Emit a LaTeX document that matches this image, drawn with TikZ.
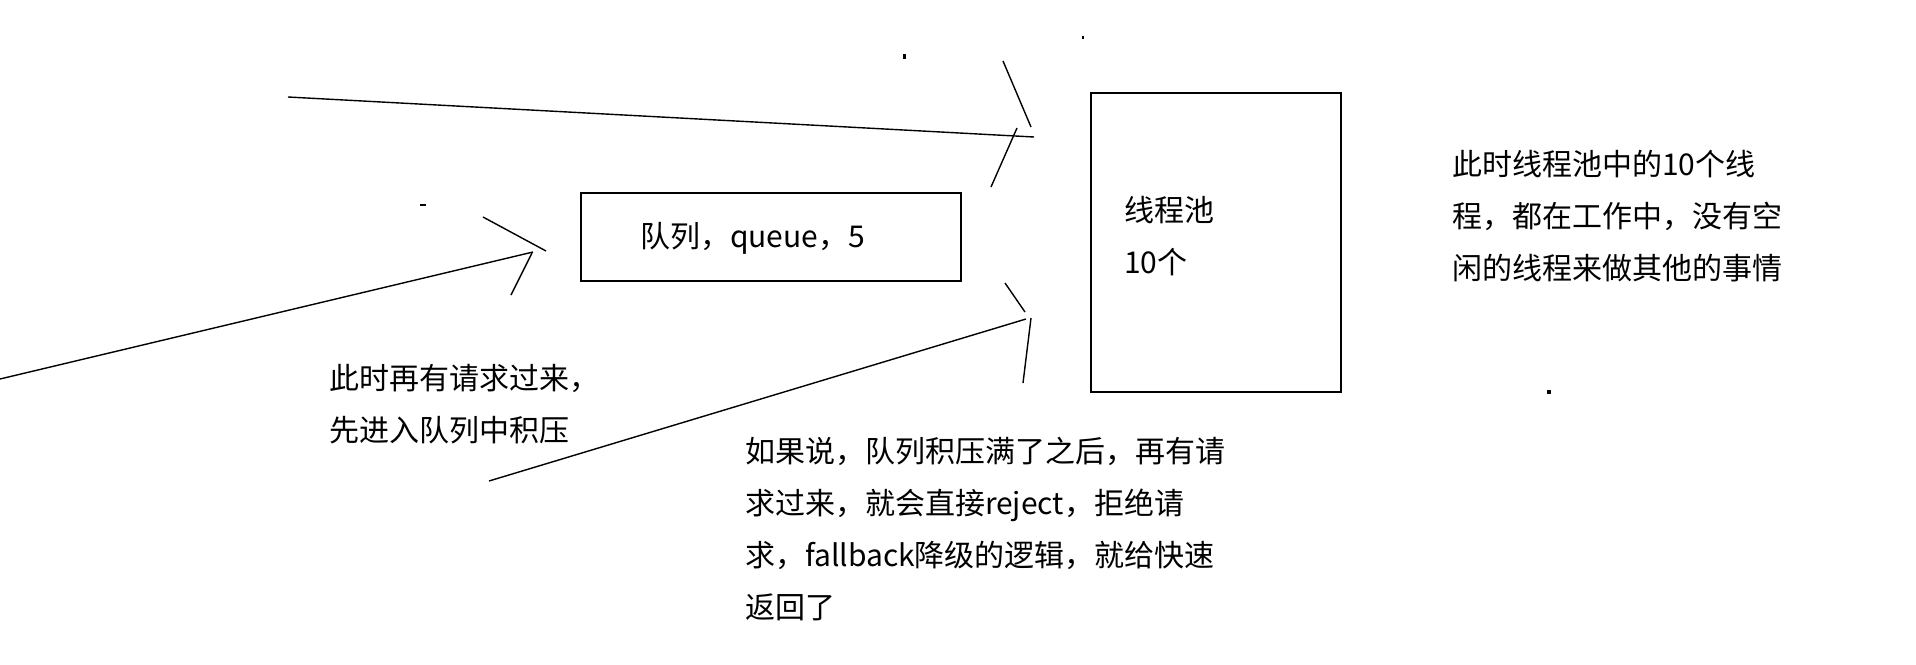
\documentclass[tikz,border=0pt]{standalone}
\usepackage{fontspec}
\setmainfont{Noto Sans CJK SC}
\newcommand{\lines}[1]{\begin{tabular}[t]{@{}l@{}}#1\end{tabular}}
\begin{document}
\begin{tikzpicture}[x=1pt,y=-1pt,
  frame/.style={draw=black, line width=2pt, inner sep=0pt, outer sep=0pt},
  conn/.style={draw=black, line width=1.4pt},
  txt/.style={inner sep=0pt, outer sep=0pt, anchor=base west, text=black,
              font=\fontsize{30}{52}\selectfont},
  speck/.style={fill=black}]
\useasboundingbox[fill=white] (0,0) rectangle (1916,664);

% boxes
\node[frame, minimum width=380pt, minimum height=88pt] (queue) at (771,237) {};
\node[frame, minimum width=250pt, minimum height=299pt] (pool) at (1216,242.5) {};

% texts
\node[txt] (queuetext) at (640,247) {队列，queue，5};
\node[txt] (pooltext) at (1124,221) {\lines{线程池\\10个}};
\node[txt] (busytext) at (1452,175) {\lines{此时线程池中的10个线\\程，都在工作中，没有空\\闲的线程来做其他的事情}};
\node[txt] (queuenote) at (329,389) {\lines{此时再有请求过来，\\先进入队列中积压}};
\node[txt] (rejectnote) at (745,462) {\lines{如果说，队列积压满了之后，再有请\\求过来，就会直接reject，拒绝请\\求，fallback降级的逻辑，就给快速\\返回了}};

% connector 1 (to thread pool, top)
\coordinate (a1s) at (288,97);
\coordinate (a1e) at (1034,137);
\coordinate (a1u1) at (1003,61);
\coordinate (a1u2) at (1031,127);
\coordinate (a1l1) at (1017,128);
\coordinate (a1l2) at (991,187);
\draw[conn] (a1s) -- (a1e);
\draw[conn] (a1u1) -- (a1u2);
\draw[conn] (a1l1) -- (a1l2);

% connector 2 (to queue)
\coordinate (a2s) at (0,379);
\coordinate (a2e) at (533,252);
\coordinate (a2u1) at (483,217);
\coordinate (a2u2) at (546,251);
\coordinate (a2l1) at (532,253);
\coordinate (a2l2) at (511,295);
\draw[conn] (a2s) -- (a2e);
\draw[conn] (a2u1) -- (a2u2);
\draw[conn] (a2l1) -- (a2l2);

% connector 3 (to thread pool, bottom)
\coordinate (a3s) at (489,481);
\coordinate (a3e) at (1026,319);
\coordinate (a3u1) at (1005,283);
\coordinate (a3u2) at (1025,312);
\coordinate (a3l1) at (1031,318);
\coordinate (a3l2) at (1023,383);
\draw[conn] (a3s) -- (a3e);
\draw[conn] (a3u1) -- (a3u2);
\draw[conn] (a3l1) -- (a3l2);

% stray specks
\fill[speck] (903,54) rectangle (906,59);
\fill[speck] (1082,36) rectangle (1084,39);
\fill[speck] (420,204) rectangle (426,206);
\fill[speck] (1547,390) rectangle (1551,394);
\end{tikzpicture}
\end{document}
